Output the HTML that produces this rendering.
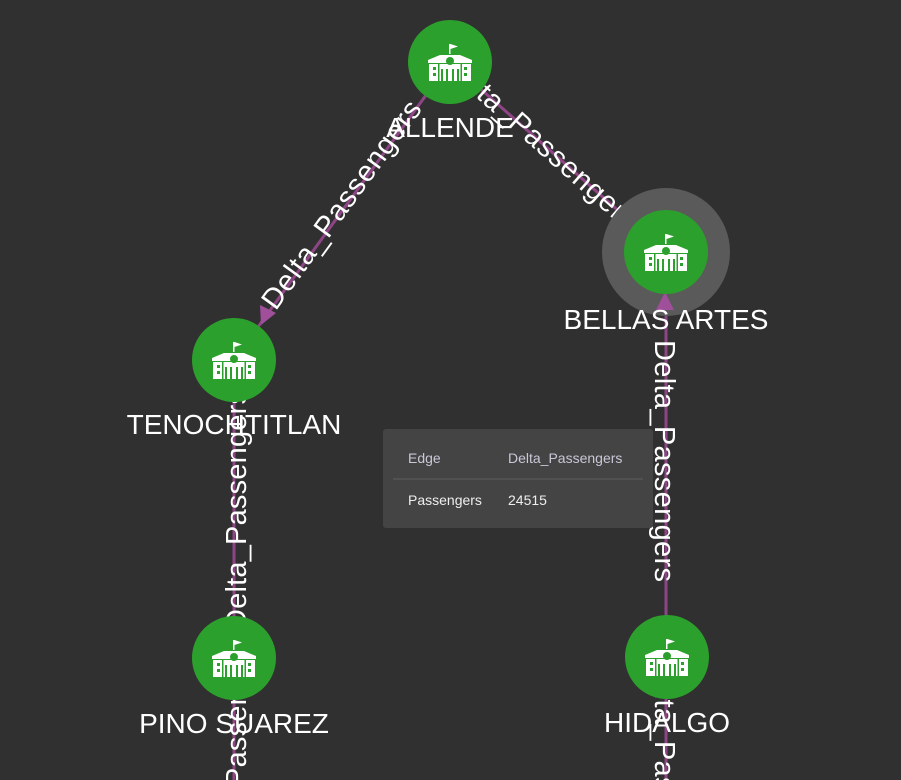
<!DOCTYPE html>
<html><head><meta charset="utf-8"><style>
html,body{margin:0;padding:0;background:#303030;overflow:hidden;}
svg{display:block;font-family:"Liberation Sans",sans-serif;}
</style></head><body>
<svg width="901" height="780" viewBox="0 0 901 780">
<defs>
<g id="ic" fill="#fff">
<rect x="-1" y="-20" width="1.5" height="10"/>
<polygon points="0.5,-20 8,-17.5 0.5,-15"/>
<polygon points="-22,-4 -10,-9 10,-9 22,-4 22,-1 -22,-1"/>
<rect x="-21" y="0" width="42" height="17"/>
</g>
<g id="icd" fill="#2ca02c">
<circle cx="0" cy="-3" r="4"/>
<rect x="-17" y="3" width="3" height="3"/><rect x="-17" y="9" width="3" height="3"/>
<rect x="14" y="3" width="3" height="3"/><rect x="14" y="9" width="3" height="3"/>
<rect x="-9" y="5" width="2" height="12"/><rect x="-4" y="5" width="2" height="12"/>
<rect x="2" y="5" width="2" height="12"/><rect x="7" y="5" width="2" height="12"/>
<rect x="-12" y="-1" width="1.5" height="18"/><rect x="10.5" y="-1" width="1.5" height="18"/>
</g>
</defs>
<g stroke="#8e4585" stroke-width="3">
<line x1="450" y1="62" x2="234" y2="360"/>
<line x1="450" y1="62" x2="665" y2="252"/>
<line x1="234" y1="360" x2="234" y2="780"/>
<line x1="666" y1="252" x2="666" y2="780"/>
</g>
<polygon points="261,325 260,305 276,313" fill="#a0509a"/>
<g fill="#fff" font-size="29">
<text x="342" y="205" text-anchor="middle" dy="9" textLength="250" transform="rotate(-54 342 205)">Delta_Passengers</text>
<text x="540" y="142" text-anchor="middle" dy="9" textLength="250" transform="rotate(41.5 540 142)">Delta_Passengers</text>
<text x="246" y="510" text-anchor="middle" textLength="240" transform="rotate(-90 246 510)">Delta_Passengers</text>
<text x="246" y="752" text-anchor="middle" textLength="240" transform="rotate(-90 246 752)">Delta_Passengers</text>
<text x="655" y="461" text-anchor="middle" textLength="242" transform="rotate(90 655 461)">Delta_Passengers</text>
<text x="655" y="776" text-anchor="middle" textLength="242" transform="rotate(90 655 776)">Delta_Passengers</text>
</g>
<circle cx="666" cy="252" r="64" fill="#5a5a5a"/>
<polygon points="665,292 656,310 674,310" fill="#a0509a"/>
<g>
<circle cx="450" cy="62" r="42" fill="#2ca02c"/><g transform="translate(450,64)"><use href="#ic"/><use href="#icd"/></g>
<circle cx="666" cy="252" r="42" fill="#2ca02c"/><g transform="translate(666,254)"><use href="#ic"/><use href="#icd"/></g>
<circle cx="234" cy="360" r="42" fill="#2ca02c"/><g transform="translate(234,362)"><use href="#ic"/><use href="#icd"/></g>
<circle cx="234" cy="658" r="42" fill="#2ca02c"/><g transform="translate(234,660)"><use href="#ic"/><use href="#icd"/></g>
<circle cx="667" cy="657" r="42" fill="#2ca02c"/><g transform="translate(667,659)"><use href="#ic"/><use href="#icd"/></g>
</g>
<g fill="#fff" font-size="28" text-anchor="middle">
<text x="450" y="137">ALLENDE</text>
<text x="666" y="329">BELLAS ARTES</text>
<text x="234" y="434">TENOCHTITLAN</text>
<text x="234" y="733">PINO SUAREZ</text>
<text x="667" y="732">HIDALGO</text>
</g>
<rect x="383" y="429" width="270" height="99" rx="3" fill="#444"/>
<line x1="393" y1="479" x2="643" y2="479" stroke="#5e5e5e" stroke-width="1"/>
<g font-size="14">
<text x="408" y="463" fill="#c8c8d8">Edge</text>
<text x="508" y="463" fill="#c8c8d8">Delta_Passengers</text>
<text x="408" y="505" fill="#eee">Passengers</text>
<text x="508" y="505" fill="#eee">24515</text>
</g>
</svg>
</body></html>
